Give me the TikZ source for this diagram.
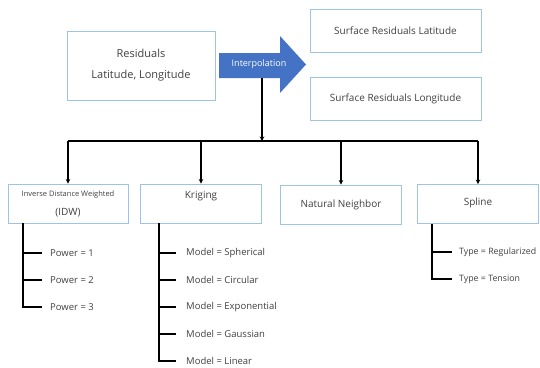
\documentclass[tikz,border=0pt]{standalone}
\usepackage{fontspec}
\setmainfont{Open Sans}
\usetikzlibrary{arrows.meta}
\definecolor{boxblue}{HTML}{9DC3E6}
\definecolor{arrowblue}{HTML}{4472C4}
\definecolor{txt}{HTML}{404040}
\begin{document}
\begin{tikzpicture}[x=1pt,y=-1pt,
  box/.style={draw=boxblue, line width=0.9pt, inner sep=0pt, text=txt, align=center},
  conn/.style={line width=1.5pt, black},
  arr/.style={line width=1.8pt, black, -{Stealth[length=4.5pt,width=4.5pt]}},
  leaf/.style={anchor=west, text=txt, font=\fontsize{9.5}{11}\selectfont, inner sep=0pt},
  big/.style={font=\fontsize{10}{12}\selectfont},
]
\useasboundingbox (0,0) rectangle (540,367);
% top row
\node[box, minimum width=148pt, minimum height=69pt, font=\fontsize{11}{21}\selectfont] (res) at (141,65.5) {Residuals\\Latitude, Longitude};
\fill[arrowblue] (219,53) -- (280,53) -- (280,36) -- (306,64.5) -- (280,93) -- (280,78) -- (219,78) -- cycle;
\node[text=white, font=\fontsize{9}{11}\selectfont, inner sep=0pt] (interp) at (259,64.5) {Interpolation};
\coordinate (interpfoot) at (262,78);
\node[box, big, minimum width=171pt, minimum height=43pt] (lat) at (395.5,30.5) {Surface Residuals Latitude};
\node[box, big, minimum width=171pt, minimum height=43pt] (lon) at (395.5,98.5) {Surface Residuals Longitude};
% methods
\node[box, minimum width=120pt, minimum height=39pt] (idw) at (68,203.5) {};
\node[text=txt, font=\fontsize{7.5}{9}\selectfont, inner sep=0pt] (idwa) at (68,195) {Inverse Distance Weighted};
\node[text=txt, big, inner sep=0pt] (idwb) at (68,213) {(IDW)};
\node[box, minimum width=121pt, minimum height=39pt] (kr) at (201,203.5) {};
\node[text=txt, big, inner sep=0pt] (krt) at (201,196) {Kriging};
\node[box, big, minimum width=121pt, minimum height=39pt] (nn) at (341,204.5) {Natural Neighbor};
\node[box, minimum width=121pt, minimum height=39pt] (sp) at (478,204) {};
\node[text=txt, big, inner sep=0pt] (spt) at (478,203) {Spline};
% connectors
\coordinate (hub) at (262,141);
\draw[arr] (interpfoot) -- (hub);
\draw[conn] (idw.north |- hub) -- (sp.north |- hub);
\foreach \n in {idw,kr,nn,sp}{\draw[arr] (\n.north |- hub) -- (\n.north);}
% leaves IDW
\node[leaf] (p1) at (50,253) {Power = 1};
\node[leaf] (p2) at (50,280) {Power = 2};
\node[leaf] (p3) at (50,307) {Power = 3};
\coordinate (idwtr) at (23,223);
\draw[conn] (idwtr) |- ([xshift=-8pt]p3.west);
\foreach \n in {p1,p2}{\draw[conn] (idwtr |- \n.west) -- ([xshift=-8pt]\n.west);}
% leaves Kriging
\node[leaf] (m1) at (186,253) {Model = Spherical};
\node[leaf] (m2) at (186,280) {Model = Circular};
\node[leaf] (m3) at (186,307) {Model = Exponential};
\node[leaf] (m4) at (186,334) {Model = Gaussian};
\node[leaf] (m5) at (186,361) {Model = Linear};
\coordinate (krtr) at (159,223);
\draw[conn] (krtr) |- ([xshift=-10pt]m5.west);
\foreach \n in {m1,m2,m3,m4}{\draw[conn] (krtr |- \n.west) -- ([xshift=-10pt]\n.west);}
% leaves Spline
\node[leaf, font=\fontsize{8.8}{10}\selectfont] (t1) at (459,252) {Type = Regularized};
\node[leaf, font=\fontsize{8.8}{10}\selectfont] (t2) at (459,279) {Type = Tension};
\coordinate (sptr) at (432,223.5);
\draw[conn] (sptr) |- ([xshift=-7pt]t2.west);
\draw[conn] (sptr |- t1.west) -- ([xshift=-7pt]t1.west);
\end{tikzpicture}
\end{document}
